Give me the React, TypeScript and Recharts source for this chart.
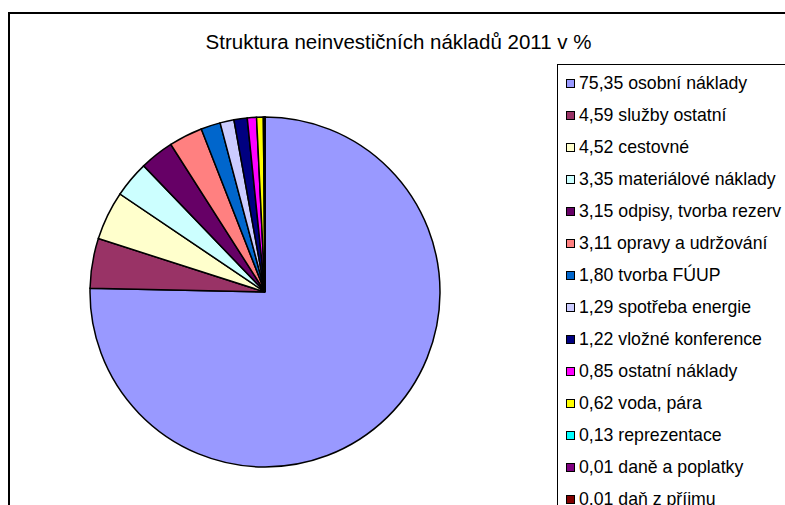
import { PieChart, Pie, Cell } from 'recharts';

const labels = [
  'osobní náklady',
  'služby ostatní',
  'cestovné',
  'materiálové náklady',
  'odpisy, tvorba rezerv',
  'opravy a udržování',
  'tvorba FÚUP',
  'spotřeba energie',
  'vložné konference',
  'ostatní náklady',
  'voda, pára',
  'reprezentace',
  'daně a poplatky',
  'daň z příjmu',
];

const values = [75.35, 4.59, 4.52, 3.35, 3.15, 3.11, 1.8, 1.29, 1.22, 0.85, 0.62, 0.13, 0.01, 0.01];

const colors = [
  '#9999FF', '#993366', '#FFFFCC', '#CCFFFF', '#660066', '#FF8080', '#0066CC',
  '#CCCCFF', '#000080', '#FF00FF', '#FFFF00', '#00FFFF', '#800080', '#800000',
];

const data = labels.map((name, i) => ({ name, value: values[i] }));

const fmt = (v: number) => v.toFixed(2).replace('.', ',');

const font = '"Liberation Sans", Arial, sans-serif';

function LegendBox() {
  return (
    <div
      style={{
        position: 'absolute',
        left: 557,
        top: 64,
        width: 300,
        height: 480,
        border: '1px solid #000',
        background: '#fff',
        paddingTop: 2,
        fontFamily: font,
        fontSize: 17.7,
        color: '#000',
      }}
    >
      {data.map((d, i) => (
        <div
          key={d.name}
          style={{ height: 32, display: 'flex', alignItems: 'center', whiteSpace: 'nowrap' }}
        >
          <span
            style={{
              width: 7,
              height: 7,
              background: colors[i],
              border: '1px solid #000',
              marginLeft: 8,
              marginRight: 4,
              display: 'inline-block',
            }}
          />
          <span>{`${fmt(d.value)} ${d.name}`}</span>
        </div>
      ))}
    </div>
  );
}

export default function App() {
  return (
    <div
      style={{
        position: 'absolute',
        left: 0,
        top: 0,
        width: 785,
        height: 505,
        overflow: 'hidden',
        background: '#fff',
      }}
    >
      <div
        style={{
          position: 'absolute',
          left: 8,
          top: 12,
          width: 820,
          height: 540,
          border: '2px solid #000',
        }}
      />
      <div
        style={{
          position: 'absolute',
          left: 0,
          width: 797,
          top: 30,
          textAlign: 'center',
          fontFamily: font,
          fontSize: 20.5,
          color: '#000',
        }}
      >
        Struktura neinvestičních nákladů 2011 v %
      </div>
      <div style={{ position: 'absolute', left: 0, top: 0 }}>
        <PieChart width={540} height={505} margin={{ top: 0, right: 0, bottom: 0, left: 0 }}>
          <Pie
            data={data}
            dataKey="value"
            nameKey="name"
            cx={265}
            cy={292}
            outerRadius={175}
            startAngle={90}
            endAngle={-270}
            stroke="#000"
            strokeWidth={1.5}
            isAnimationActive={false}
          >
            {data.map((d, i) => (
              <Cell key={d.name} fill={colors[i]} />
            ))}
          </Pie>
        </PieChart>
      </div>
      <LegendBox />
    </div>
  );
}
